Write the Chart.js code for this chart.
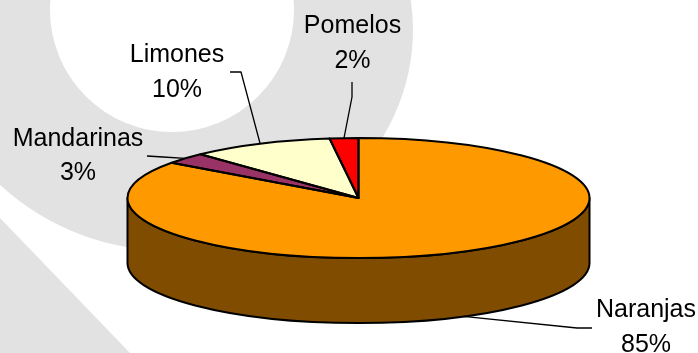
<!DOCTYPE html>
<html>
<head>
<meta charset="utf-8">
<script src="https://cdn.jsdelivr.net/npm/chart.js@4"></script>
<style>
  html, body { margin: 0; padding: 0; background: #ffffff; }
  #wrap { width: 698px; height: 353px; position: relative; }
</style>
</head>
<body>
<div id="wrap"><canvas id="c" width="698" height="353"></canvas></div>
<script>
// ---- data ----
const categories = ['Naranjas', 'Mandarinas', 'Limones', 'Pomelos'];
const shares = [85, 3, 10, 2];
const pctLabels = ['85%', '3%', '10%', '2%'];

// ---- 3D pie geometry / styling (layout only) ----
const GEO = { cx: 358.5, cy: 198, rx: 231, ry: 60, depth: 65 };
const LABEL_LAYOUT = [
  { tx: 646, b1: 317, b2: 352, elbow: [577, 328], end: [592, 328] },
  { tx: 78,  b1: 146, b2: 180, elbow: [163, 157], end: [147, 156] },
  { tx: 177, b1: 62,  b2: 97,  elbow: [241, 72],  end: [230, 72] },
  { tx: 352.5, b1: 33, b2: 68, elbow: [352, 97],  end: [352, 82] }
];

function shade(hex, f) {
  const n = parseInt(hex.slice(1), 16);
  const r = Math.round(((n >> 16) & 255) * f), g = Math.round(((n >> 8) & 255) * f), b = Math.round((n & 255) * f);
  return 'rgb(' + r + ',' + g + ',' + b + ')';
}

const watermark = {
  id: 'watermark',
  beforeDraw(chart) {
    const ctx = chart.ctx;
    ctx.save();
    ctx.fillStyle = '#ffffff';
    ctx.fillRect(0, 0, chart.width, chart.height);
    ctx.fillStyle = '#e2e2e2';
    ctx.beginPath();
    ctx.ellipse(172, 30, 241, 221, 0, 0, Math.PI * 2);
    ctx.fill();
    ctx.fillStyle = '#ffffff';
    ctx.beginPath();
    ctx.arc(172, 10, 122, 0, Math.PI * 2);
    ctx.fill();
    ctx.fillStyle = '#e2e2e2';
    ctx.beginPath();
    ctx.moveTo(0, 218);
    ctx.lineTo(130, 353);
    ctx.lineTo(0, 353);
    ctx.closePath();
    ctx.fill();
    ctx.restore();
  }
};

const pie3d = {
  id: 'pie3d',
  beforeDatasetsDraw(chart) {
    const ctx = chart.ctx;
    const meta = chart.getDatasetMeta(0);
    const ds = chart.data.datasets[0];
    const { cx, cy, rx, ry, depth } = GEO;
    // side walls (front half only: canvas angles 0..PI)
    ctx.save();
    ctx.lineWidth = 2;
    ctx.strokeStyle = '#000';
    ctx.lineJoin = 'round';
    meta.data.forEach((arc, i) => {
      const s = arc.startAngle, e = arc.endAngle;
      [0, 2 * Math.PI].forEach(k => {
        const lo = Math.max(s, k), hi = Math.min(e, k + Math.PI);
        if (hi <= lo) return;
        ctx.beginPath();
        ctx.ellipse(cx, cy, rx, ry, 0, lo, hi);
        ctx.ellipse(cx, cy + depth, rx, ry, 0, hi, lo, true);
        ctx.closePath();
        ctx.fillStyle = shade(ds.backgroundColor[i], 0.5);
        ctx.fill();
        ctx.stroke();
      });
    });
    ctx.restore();
    // transform so the library's circular arcs become the top ellipse
    const a0 = meta.data[0];
    const R = a0.outerRadius;
    ctx.save();
    ctx.translate(cx, cy);
    ctx.scale(rx / R, ry / R);
    ctx.translate(-a0.x, -a0.y);
  },
  afterDatasetsDraw(chart) {
    const ctx = chart.ctx;
    ctx.restore();
    const meta = chart.getDatasetMeta(0);
    const { cx, cy, rx, ry, depth } = GEO;
    ctx.save();
    ctx.lineWidth = 2;
    ctx.strokeStyle = '#000';
    ctx.lineJoin = 'round';
    meta.data.forEach(arc => {
      ctx.beginPath();
      ctx.moveTo(cx, cy);
      ctx.ellipse(cx, cy, rx, ry, 0, arc.startAngle, arc.endAngle);
      ctx.closePath();
      ctx.stroke();
    });
    // labels + leader lines
    ctx.lineWidth = 1.3;
    ctx.font = '25px "Liberation Sans", Arial, sans-serif';
    ctx.fillStyle = '#000';
    ctx.textAlign = 'center';
    ctx.textBaseline = 'alphabetic';
    meta.data.forEach((arc, i) => {
      const mid = (arc.startAngle + arc.endAngle) / 2;
      let px = cx + rx * Math.cos(mid);
      let py = cy + ry * Math.sin(mid);
      if (Math.sin(mid) > 0) py += depth;
      const L = LABEL_LAYOUT[i];
      ctx.beginPath();
      ctx.moveTo(px, py);
      ctx.lineTo(L.elbow[0], L.elbow[1]);
      ctx.lineTo(L.end[0], L.end[1]);
      ctx.stroke();
      ctx.fillText(categories[i], L.tx, L.b1);
      ctx.fillText(pctLabels[i], L.tx, L.b2);
    });
    ctx.restore();
  }
};

new Chart(document.getElementById('c'), {
  type: 'pie',
  data: {
    labels: categories,
    datasets: [{
      data: shares,
      backgroundColor: ['#ff9900', '#993366', '#ffffcc', '#ff0000'],
      borderWidth: 0,
      clip: false
    }]
  },
  options: {
    responsive: false,
    animation: false,
    events: [],
    plugins: { legend: { display: false }, tooltip: { enabled: false } }
  },
  plugins: [watermark, pie3d]
});
</script>
</body>
</html>
